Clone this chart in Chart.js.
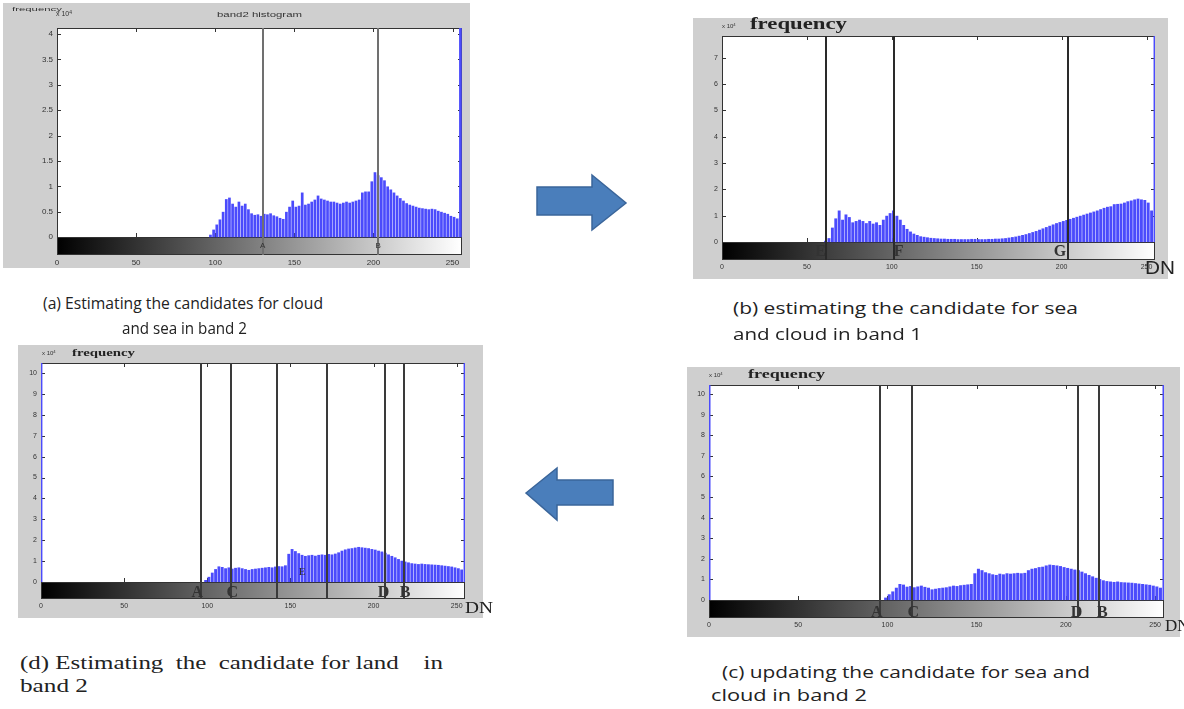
<!DOCTYPE html>
<html>
<head>
<meta charset="utf-8">
<script src="https://cdn.jsdelivr.net/npm/chart.js@4.4.1/dist/chart.umd.min.js"></script>
<style>
  body { margin: 0; width: 1184px; height: 709px; overflow: hidden; background: #fff; position: relative; }
  .panel { position: absolute; background: #cfcfcf; }
  .panel canvas { position: absolute; left: 0; top: 0; }
  .t { position: absolute; white-space: pre; line-height: 1; transform-origin: 0 50%; color: #222; }
  .sans { font-family: "Open Sans", sans-serif; }
  .serif { font-family: "Liberation Serif", serif; }
  .mat { font-family: "Liberation Sans", sans-serif; color: #333; }
  sup { font-size: 70%; vertical-align: 40%; }
</style>
</head>
<body>

<div class="panel" style="left:3px;top:3px;width:467px;height:265px"><canvas id="histA" width="467" height="265"></canvas></div>
<div class="panel" style="left:693px;top:18px;width:475px;height:261px"><canvas id="histB" width="475" height="261"></canvas></div>
<div class="panel" style="left:687px;top:367px;width:493px;height:270px"><canvas id="histC" width="493" height="270"></canvas></div>
<div class="panel" style="left:18px;top:345px;width:465px;height:273px"><canvas id="histD" width="465" height="273"></canvas></div>

<!-- panel texts -->
<div class="t mat" style="left:12px;top:6px;font-size:6px" data-w="50">frequency</div>
<div class="t mat" style="left:56px;top:10px;font-size:7px">x 10<sup>4</sup></div>
<div class="t mat" style="left:217px;top:11px;font-size:8px" data-w="85">band2 histogram</div>

<div class="t mat" style="left:722px;top:23px;font-size:6px">x 10<sup>4</sup></div>
<div class="t serif" style="left:750px;top:15px;font-size:17px;font-weight:bold" data-w="97">frequency</div>
<div class="t mat" style="left:1145px;top:258px;font-size:19px;color:#222" data-w="30">DN</div>

<div class="t mat" style="left:709px;top:372px;font-size:6px">x 10<sup>4</sup></div>
<div class="t serif" style="left:748px;top:368px;font-size:12px;font-weight:bold" data-w="77">frequency</div>
<div class="t serif" style="left:1165px;top:617px;font-size:17px">DN</div>

<div class="t mat" style="left:42px;top:350px;font-size:6px">x 10<sup>4</sup></div>
<div class="t serif" style="left:72px;top:347px;font-size:11px;font-weight:bold" data-w="63">frequency</div>
<div class="t serif" style="left:465px;top:599px;font-size:17px" data-w="28">DN</div>

<!-- captions -->
<div class="t sans" style="left:43px;top:295px;font-size:16px" data-w="280">(a) Estimating the candidates for cloud</div>
<div class="t sans" style="left:122px;top:320px;font-size:16px" data-w="125">and sea in band 2</div>
<div class="t sans" style="left:733px;top:300px;font-size:16px" data-w="345">(b) estimating the candidate for sea</div>
<div class="t sans" style="left:733px;top:326px;font-size:16px" data-w="189">and cloud in band 1</div>
<div class="t sans" style="left:722px;top:663px;font-size:17px" data-w="368">(c) updating the candidate for sea and</div>
<div class="t sans" style="left:711px;top:686px;font-size:17px" data-w="156">cloud in band 2</div>
<div class="t serif" style="left:20px;top:653px;font-size:19px" data-w="423">(d) Estimating  the  candidate for land    in</div>
<div class="t serif" style="left:20px;top:676px;font-size:19px" data-w="68">band 2</div>

<svg width="1184" height="709" style="position:absolute;left:0;top:0;pointer-events:none">
  <polygon points="537,187 592,187 592,175 626,203 592,230 592,215 537,215" fill="#4a7ebb" stroke="#3a659a" stroke-width="1.5"/>
  <polygon points="526,493 557,468 557,480 613,480 613,505 557,505 557,520" fill="#4a7ebb" stroke="#3a659a" stroke-width="1.5"/>
</svg>

<script>
// ---------- data (frequency in units of 10^4, bins of 2 DN centred on odd DN) ----------
const dnTicks = [0, 50, 100, 150, 200, 250];
const dnTickLabels = ['0', '50', '100', '150', '200', '250'];

// (a) band 2 histogram
const startA = 97;
const freqA = [0.05, 0.15, 0.25, 0.35, 0.5, 0.75, 0.78, 0.66, 0.6, 0.7,
  0.62, 0.66, 0.55, 0.47, 0.44, 0.45, 0.42, 0.46, 0.45, 0.47,
  0.43, 0.41, 0.38, 0.36, 0.5, 0.6, 0.72, 0.6, 0.62, 0.88,
  0.64, 0.66, 0.7, 0.74, 0.82, 0.76, 0.74, 0.72, 0.7, 0.7,
  0.68, 0.66, 0.68, 0.7, 0.68, 0.7, 0.72, 0.74, 0.88, 0.9,
  0.9, 1.1, 1.28, 1.22, 1.18, 1.12, 1.0, 0.94, 0.88, 0.82,
  0.77, 0.72, 0.67, 0.64, 0.62, 0.6, 0.58, 0.57, 0.56, 0.55,
  0.56, 0.55, 0.52, 0.5, 0.48, 0.46, 0.42, 0.4, 0.37];
const edgeDnA = [255];
const edgeFreqA = [40];
const yTicksA = [0, 0.5, 1, 1.5, 2, 2.5, 3, 3.5, 4];
const yLabelsA = ['0', '0.5', '1', '1.5', '2', '2.5', '3', '3.5', '4'];
const linesA = [130, 203];
const markTextA = ['A', 'B'];
const markDnA = [130, 203];

// (b) band 1 histogram
const startB = 61;
const freqB = [0.05, 0.15, 0.55, 0.9, 1.2, 0.85, 1.05, 0.95, 0.75, 0.8,
  0.85, 0.8, 0.72, 0.8, 0.7, 0.75, 0.65, 0.85, 1.0, 1.1,
  1.2, 1.0, 0.85, 0.65, 0.5, 0.4, 0.32, 0.27, 0.22, 0.2,
  0.18, 0.16, 0.15, 0.14, 0.13, 0.13, 0.12, 0.12, 0.12, 0.11,
  0.11, 0.11, 0.11, 0.12, 0.12, 0.11, 0.11, 0.11, 0.12, 0.12,
  0.13, 0.13, 0.14, 0.15, 0.17, 0.19, 0.21, 0.24, 0.27, 0.3,
  0.34, 0.38, 0.42, 0.47, 0.52, 0.57, 0.62, 0.67, 0.72, 0.76,
  0.8, 0.84, 0.88, 0.92, 0.96, 1.0, 1.04, 1.08, 1.12, 1.16,
  1.2, 1.25, 1.3, 1.34, 1.36, 1.44, 1.45, 1.46, 1.5, 1.55,
  1.58, 1.62, 1.65, 1.62, 1.6, 1.5, 1.2];
const edgeDnB = [255];
const edgeFreqB = [40];
const yTicksB = [0, 1, 2, 3, 4, 5, 6, 7];
const yLabelsB = ['0', '1', '2', '3', '4', '5', '6', '7'];
const linesB = [61, 101, 204];
const markTextB = ['E', 'F', 'G'];
const markDnB = [58, 104, 199];

// (c) band 2 histogram, updated candidates
const startC = 99;
const freqC = [0.12, 0.28, 0.42, 0.6, 0.78, 0.75, 0.65, 0.68, 0.62, 0.66,
  0.7, 0.64, 0.6, 0.52, 0.55, 0.58, 0.6, 0.62, 0.66, 0.7,
  0.68, 0.72, 0.74, 0.76, 0.78, 1.3, 1.52, 1.45, 1.35, 1.3,
  1.25, 1.22, 1.28, 1.25, 1.3, 1.28, 1.3, 1.32, 1.3, 1.32,
  1.45, 1.52, 1.55, 1.6, 1.62, 1.68, 1.72, 1.7, 1.68, 1.65,
  1.6, 1.56, 1.52, 1.48, 1.45, 1.38, 1.3, 1.22, 1.15, 1.08,
  1.02, 0.96, 0.92, 0.9, 0.88, 0.9, 0.87, 0.86, 0.85, 0.84,
  0.82, 0.8, 0.78, 0.76, 0.74, 0.7, 0.66, 0.6];
const edgeDnC = [0, 255];
const edgeFreqC = [40, 40];
const yTicksC = [0, 1, 2, 3, 4, 5, 6, 7, 8, 9, 10];
const yLabelsC = ['0', '1', '2', '3', '4', '5', '6', '7', '8', '9', '10'];
const linesC = [96, 114, 207, 218.5];
const markTextC = ['A', 'C', 'D', 'B'];
const markDnC = [94, 114.5, 206, 220.5];

// (d) band 2 histogram, land candidates
const startD = 99;
const freqD = [0.1, 0.25, 0.45, 0.62, 0.75, 0.72, 0.66, 0.7, 0.64, 0.68,
  0.7, 0.66, 0.62, 0.58, 0.62, 0.64, 0.66, 0.68, 0.7, 0.72,
  0.7, 0.74, 0.76, 0.75, 0.8, 1.35, 1.58, 1.48, 1.38, 1.3,
  1.25, 1.28, 1.3, 1.26, 1.3, 1.32, 1.3, 1.34, 1.32, 1.36,
  1.42, 1.5, 1.56, 1.6, 1.62, 1.65, 1.68, 1.66, 1.64, 1.62,
  1.58, 1.55, 1.5, 1.46, 1.4, 1.32, 1.25, 1.18, 1.1, 1.02,
  0.98, 0.94, 0.9, 0.88, 0.86, 0.88, 0.86, 0.85, 0.84, 0.83,
  0.82, 0.8, 0.78, 0.76, 0.74, 0.7, 0.66, 0.6];
const edgeDnD = [0, 255];
const edgeFreqD = [40, 40];
const yTicksD = yTicksC;
const yLabelsD = yLabelsC;
const linesD = [96, 114, 142, 172, 207, 218.5];
const markTextD = ['A', 'C', 'D', 'B'];
const markDnD = [94, 115, 206, 219];
const innerTextD = ['E'];
const innerDnD = [157];
const innerFreqD = [0.5];

// ---------- panel layout ----------
const barBlue = 'rgb(75,75,252)';
const panels = [
  { id: 'histA', box: [3, 3, 467, 265], area: [57, 28, 462, 255], xMax: 256, yMin: -0.35, yMax: 4.12,
    start: startA, freq: freqA, edgeDn: edgeDnA, edgeFreq: edgeFreqA, yTicks: yTicksA, yLabels: yLabelsA,
    lines: linesA, lineColor: '#707070', marks: markTextA, markDn: markDnA,
    markFont: '8px "Liberation Sans"', markColor: '#333', markPos: 0.5, tickSize: 8 },
  { id: 'histB', box: [693, 18, 475, 261], area: [722, 36, 1155, 260], xMax: 255, yMin: -0.68, yMax: 7.83,
    start: startB, freq: freqB, edgeDn: edgeDnB, edgeFreq: edgeFreqB, yTicks: yTicksB, yLabels: yLabelsB,
    lines: linesB, lineColor: '#2a2a2a', marks: markTextB, markDn: markDnB,
    markFont: 'bold 16px "Liberation Serif"', markColor: '#333', markPos: 0.55, tickSize: 7 },
  { id: 'histC', box: [687, 367, 493, 270], area: [709, 385, 1164, 618], xMax: 255, yMin: -0.87, yMax: 10.44,
    start: startC, freq: freqC, edgeDn: edgeDnC, edgeFreq: edgeFreqC, yTicks: yTicksC, yLabels: yLabelsC,
    lines: linesC, lineColor: '#3a3a3a', marks: markTextC, markDn: markDnC,
    markFont: 'bold 16px "Liberation Serif"', markColor: '#333', markPos: 0.7, tickSize: 7 },
  { id: 'histD', box: [18, 345, 465, 273], area: [41, 363, 465, 599], xMax: 255, yMin: -0.81, yMax: 10.48,
    start: startD, freq: freqD, edgeDn: edgeDnD, edgeFreq: edgeFreqD, yTicks: yTicksD, yLabels: yLabelsD,
    lines: linesD, lineColor: '#3a3a3a', marks: markTextD, markDn: markDnD,
    markFont: 'bold 16px "Liberation Serif"', markColor: '#333', markPos: 0.65, tickSize: 7,
    inner: innerTextD, innerDn: innerDnD, innerFreq: innerFreqD }
];
const decor = {};
panels.forEach(p => { decor[p.id] = p; });

// colour bar, frame, inward tick marks, candidate lines and letters
const histDecor = {
  id: 'histDecor',
  beforeDraw(chart) {
    const p = decor[chart.canvas.id];
    const { ctx, chartArea: a } = chart;
    const x = chart.scales.x, y = chart.scales.y;
    const y0 = Math.round(y.getPixelForValue(0));
    ctx.save();
    ctx.fillStyle = '#fff';
    ctx.fillRect(a.left, a.top, a.width, y0 - a.top);
    const g = ctx.createLinearGradient(x.getPixelForValue(0), 0, x.getPixelForValue(255), 0);
    g.addColorStop(0, '#000');
    g.addColorStop(1, '#fff');
    ctx.fillStyle = g;
    ctx.fillRect(a.left, y0, a.width, a.bottom - y0);
    ctx.strokeStyle = '#333';
    ctx.lineWidth = 1;
    ctx.strokeRect(a.left + 0.5, a.top + 0.5, a.width - 1, y0 - a.top);
    ctx.strokeRect(a.left + 0.5, y0 + 0.5, a.width - 1, a.bottom - y0 - 1);
    ctx.beginPath();
    p.yTicks.forEach(v => {
      const py = Math.round(y.getPixelForValue(v)) + 0.5;
      ctx.moveTo(a.left, py); ctx.lineTo(a.left + 4, py);
      ctx.moveTo(a.right, py); ctx.lineTo(a.right - 4, py);
    });
    dnTicks.forEach(v => {
      const px = Math.round(x.getPixelForValue(v)) + 0.5;
      ctx.moveTo(px, a.top); ctx.lineTo(px, a.top + 4);
      ctx.moveTo(px, y0); ctx.lineTo(px, y0 - 4);
    });
    ctx.stroke();
    ctx.restore();
  },
  afterDatasetsDraw(chart) {
    const p = decor[chart.canvas.id];
    const { ctx, chartArea: a } = chart;
    const x = chart.scales.x, y = chart.scales.y;
    const y0 = y.getPixelForValue(0);
    ctx.save();
    ctx.strokeStyle = p.lineColor;
    ctx.lineWidth = 2;
    p.lines.forEach(d => {
      const px = Math.round(x.getPixelForValue(d));
      ctx.beginPath();
      ctx.moveTo(px, a.top);
      ctx.lineTo(px, a.bottom);
      ctx.stroke();
    });
    ctx.font = p.markFont;
    ctx.fillStyle = p.markColor;
    ctx.textAlign = 'center';
    ctx.textBaseline = 'middle';
    p.marks.forEach((t, i) => {
      ctx.fillText(t, x.getPixelForValue(p.markDn[i]), y0 + (a.bottom - y0) * p.markPos);
    });
    if (p.inner) {
      ctx.font = '11px "Liberation Serif"';
      p.inner.forEach((t, i) => {
        ctx.fillText(t, x.getPixelForValue(p.innerDn[i]), y.getPixelForValue(p.innerFreq[i]));
      });
    }
    ctx.restore();
  }
};
Chart.register(histDecor);

function makeHist(p) {
  const [bx, by, bw, bh] = p.box;
  const [al, at, ar, ab] = p.area;
  const bins = p.freq.map((v, i) => ({ x: p.start + 2 * i, y: v }));
  const edge = p.edgeDn.map((d, i) => ({ x: d, y: p.edgeFreq[i] }));
  const tickFont = { family: 'Liberation Sans', size: p.tickSize };
  return new Chart(document.getElementById(p.id), {
    type: 'bar',
    data: {
      datasets: [
        { data: bins, backgroundColor: barBlue, grouped: false, barPercentage: 0.85, categoryPercentage: 1 },
        { data: edge, backgroundColor: barBlue, grouped: false, barPercentage: 0.85, categoryPercentage: 1 }
      ]
    },
    options: {
      responsive: false,
      animation: false,
      devicePixelRatio: 1,
      layout: { padding: { top: at - by, right: bx + bw - ar, left: 0, bottom: 0 } },
      plugins: { legend: { display: false }, tooltip: { enabled: false } },
      scales: {
        x: {
          type: 'linear', min: 0, max: p.xMax, offset: false,
          grid: { display: false, drawTicks: false, offset: false },
          border: { display: false },
          afterBuildTicks: s => { s.ticks = dnTicks.map(v => ({ value: v })); },
          afterFit: s => { s.height = by + bh - ab; },
          ticks: { font: tickFont, color: '#333', padding: 3, maxRotation: 0, autoSkip: false,
                   callback: (v, i) => dnTickLabels[i] }
        },
        y: {
          min: p.yMin, max: p.yMax,
          grid: { display: false, drawTicks: false },
          border: { display: false },
          afterBuildTicks: s => { s.ticks = p.yTicks.map(v => ({ value: v })); },
          afterFit: s => { s.width = al - bx; },
          ticks: { font: tickFont, color: '#333', padding: 4, autoSkip: false,
                   callback: (v, i) => p.yLabels[i] }
        }
      }
    }
  });
}

panels.forEach(makeHist);

// squeeze / stretch caption lines to the widths seen in the figure
document.querySelectorAll('.t[data-w]').forEach(el => {
  const w = el.getBoundingClientRect().width;
  if (w > 0) el.style.transform = 'scaleX(' + (parseFloat(el.dataset.w) / w) + ')';
});
</script>
</body>
</html>
